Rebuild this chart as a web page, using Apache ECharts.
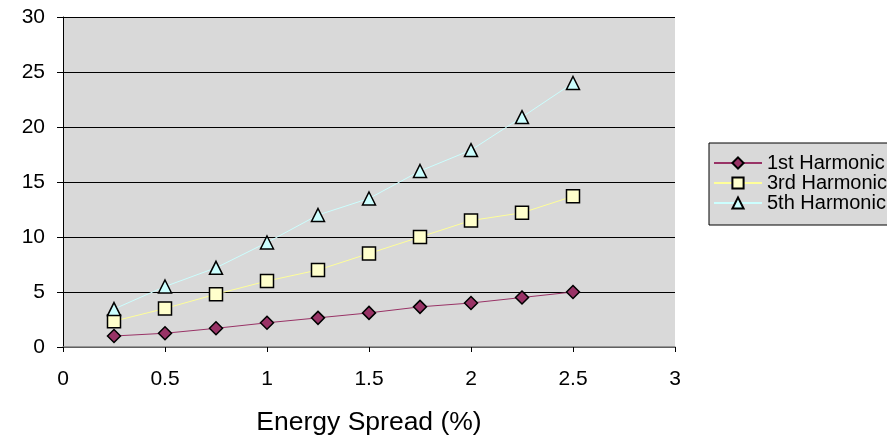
<!DOCTYPE html>
<html style="height: 100%">
<head>
  <meta charset="utf-8">
  <script src="https://cdn.jsdelivr.net/npm/echarts@6/dist/echarts.min.js"></script>
</head>
<body style="height: 100%; margin: 0; background: #fff">
  <div id="container" style="width: 887px; height: 443px"></div>
  <script type="text/javascript">
    // 横轴：能量展宽 (%)
    var spread = [0.25, 0.5, 0.75, 1.0, 1.25, 1.5, 1.75, 2.0, 2.25, 2.5];
    var harm1 = [1.0, 1.25, 1.7, 2.2, 2.65, 3.1, 3.65, 4.0, 4.5, 5.0];
    var harm3 = [2.35, 3.5, 4.8, 6.0, 7.0, 8.5, 10.0, 11.5, 12.2, 13.7];
    var harm5 = [3.45, 5.5, 7.2, 9.5, 12.0, 13.5, 16.0, 17.9, 20.9, 24.0];
    var names = ['1st Harmonic', '3rd Harmonic', '5th Harmonic'];

    function pairs(ys) {
      return spread.map(function (x, i) { return [x, ys[i]]; });
    }

    var font = 'Liberation Sans, Arial, sans-serif';
    var myChart = echarts.init(document.getElementById('container'));

    var option = {
      animation: false,
      grid: { left: 63, right: 212, top: 17, bottom: 96, show: true, backgroundColor: '#D9D9D9', borderWidth: 0 },
      legend: {
        orient: 'vertical',
        left: 709,
        top: 143,
        padding: [10, 40, 12, 4],
        itemGap: 0,
        itemWidth: 48,
        itemHeight: 14,
        backgroundColor: '#D9D9D9',
        borderColor: '#000',
        borderWidth: 1,
        borderRadius: 0,
        textStyle: { fontFamily: font, fontSize: 20, lineHeight: 19, color: '#000' },
        data: names
      },
      xAxis: {
        type: 'value',
        min: 0, max: 3, interval: 0.5,
        name: 'Energy Spread (%)',
        nameLocation: 'middle',
        nameGap: 62,
        nameTextStyle: { fontFamily: font, fontSize: 26.5, color: '#000' },
        axisLine: { show: true, lineStyle: { color: '#808080', width: 1.5 } },
        axisTick: { show: true, inside: false, length: 5, lineStyle: { color: '#000' } },
        axisLabel: { fontFamily: font, fontSize: 21, color: '#000', margin: 22 },
        splitLine: { show: false }
      },
      yAxis: {
        type: 'value',
        min: 0, max: 30, interval: 5,
        axisLine: { show: true, lineStyle: { color: '#000', width: 1 } },
        axisTick: { show: true, length: 6, lineStyle: { color: '#000' } },
        axisLabel: { fontFamily: font, fontSize: 21, color: '#000', margin: 18 },
        splitLine: { show: true, lineStyle: { color: '#000', width: 1 } }
      },
      series: [{
        name: names[0], type: 'line', data: pairs(harm1),
        symbol: 'diamond', symbolSize: 13,
        lineStyle: { color: '#993366', width: 1 },
        itemStyle: { color: '#993366', borderColor: '#000', borderWidth: 1.5 }
      }, {
        name: names[1], type: 'line', data: pairs(harm3),
        symbol: 'rect', symbolSize: 13,
        lineStyle: { color: '#FFFF99', width: 1 },
        itemStyle: { color: '#FFFFCC', borderColor: '#000', borderWidth: 1.5 }
      }, {
        name: names[2], type: 'line', data: pairs(harm5),
        symbol: 'triangle', symbolSize: 13,
        lineStyle: { color: '#CCFFFF', width: 1 },
        itemStyle: { color: '#CCFFFF', borderColor: '#000', borderWidth: 1.5 }
      }]
    };
    myChart.setOption(option);
  </script>
</body>
</html>
